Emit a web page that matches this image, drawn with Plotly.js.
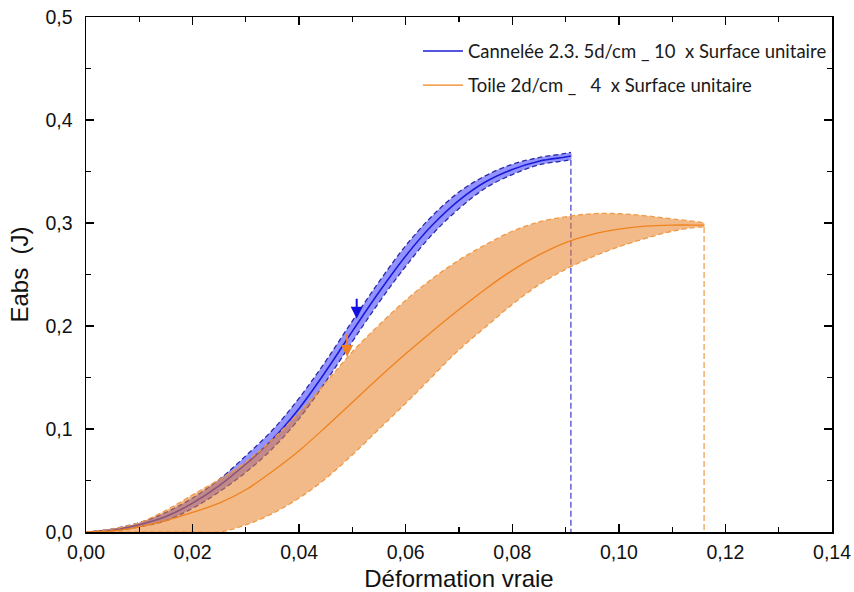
<!DOCTYPE html>
<html>
<head>
<meta charset="utf-8">
<script src="https://cdn.plot.ly/plotly-3.0.1.min.js"></script>
<style>html,body{margin:0;padding:0;background:#fff;}#chart{width:854px;height:592px;}</style>
</head>
<body>
<div id="chart"></div>
<script>
// ---- Data ----
const blueName = "Cannel\u00e9e 2.3. 5d/cm _ 10\u00a0 x Surface unitaire";
const orangeName = "Toile 2d/cm _\u00a0\u00a0 4\u00a0 x Surface unitaire";

const blueX     = [0, 0.005, 0.01, 0.015, 0.02, 0.025, 0.03, 0.035, 0.04, 0.045, 0.05, 0.055, 0.06, 0.065, 0.07, 0.075, 0.08, 0.085, 0.09, 0.091];
const blueMean  = [0, 0.002, 0.007, 0.015, 0.028, 0.045, 0.066, 0.090, 0.120, 0.156, 0.195, 0.233, 0.268, 0.298, 0.322, 0.340, 0.352, 0.360, 0.364, 0.365];
const blueUpper = [0, 0.003, 0.009, 0.019, 0.033, 0.051, 0.074, 0.099, 0.130, 0.166, 0.205, 0.243, 0.278, 0.307, 0.330, 0.346, 0.357, 0.3635, 0.3675, 0.3685];
const blueLower = [0, 0.001, 0.005, 0.011, 0.023, 0.039, 0.058, 0.081, 0.110, 0.146, 0.185, 0.223, 0.258, 0.289, 0.314, 0.334, 0.347, 0.3565, 0.3605, 0.3615];

const orangeX     = [0, 0.005, 0.01, 0.015, 0.02, 0.025, 0.03, 0.035, 0.04, 0.045, 0.05, 0.055, 0.06, 0.065, 0.07, 0.075, 0.08, 0.085, 0.09, 0.095, 0.1, 0.105, 0.11, 0.115, 0.116];
const orangeMean  = [0, 0.001, 0.005, 0.011, 0.019, 0.028, 0.041, 0.059, 0.079, 0.102, 0.126, 0.150, 0.173, 0.195, 0.216, 0.236, 0.254, 0.269, 0.281, 0.289, 0.294, 0.297, 0.298, 0.298, 0.298];
const orangeUpper = [0, 0.003, 0.009, 0.021, 0.036, 0.051, 0.068, 0.090, 0.116, 0.145, 0.175, 0.201, 0.225, 0.246, 0.264, 0.279, 0.292, 0.301, 0.306, 0.309, 0.309, 0.307, 0.304, 0.301, 0.300];
const orangeLower = [0, 0, 0, 0, 0, 0, 0.007, 0.018, 0.033, 0.052, 0.075, 0.100, 0.125, 0.151, 0.177, 0.199, 0.221, 0.240, 0.255, 0.267, 0.277, 0.285, 0.292, 0.296, 0.296];

// arrows: [x, tail y, head y]
const blueArrow   = [0.0508, 0.228, 0.207];
const orangeArrow = [0.049, 0.194, 0.170];

// ---- Styles ----
const BLUE_LINE = "#1c1cd8", BLUE_DASH = "#2a2aa8", BLUE_FILL = "rgba(40,40,255,0.5)";
const OR_LINE = "#f0821e", OR_DASH = "#ee9a48", OR_FILL = "rgba(232,130,40,0.55)";

function band(x, up, lo) {
  return { x: x.concat(x.slice().reverse()), y: up.concat(lo.slice().reverse()) };
}
const bB = band(blueX, blueUpper, blueLower);
const oB = band(orangeX, orangeUpper, orangeLower);
const lastB = blueX.length - 1, lastO = orangeX.length - 1;

const traces = [
  { x: bB.x, y: bB.y, type: "scatter", mode: "lines", fill: "toself", fillcolor: BLUE_FILL,
    line: { width: 0, shape: "spline" }, showlegend: false, hoverinfo: "skip" },
  { x: blueX, y: blueUpper, mode: "lines", line: { color: BLUE_DASH, width: 1.3, dash: "5px,3px", shape: "spline" }, showlegend: false },
  { x: blueX, y: blueLower, mode: "lines", line: { color: BLUE_DASH, width: 1.3, dash: "5px,3px", shape: "spline" }, showlegend: false },
  { x: [blueX[lastB], blueX[lastB]], y: [blueLower[lastB], 0], mode: "lines", line: { color: "#3a3acc", width: 1.2, dash: "6px,3px" }, showlegend: false },
  { x: blueX, y: blueMean, mode: "lines", name: blueName, legendgroup: "a", line: { color: BLUE_LINE, width: 1.6, shape: "spline" } },

  { x: oB.x, y: oB.y, type: "scatter", mode: "lines", fill: "toself", fillcolor: OR_FILL,
    line: { width: 0, shape: "spline" }, showlegend: false, hoverinfo: "skip" },
  { x: orangeX, y: orangeUpper, mode: "lines", line: { color: OR_DASH, width: 1.3, dash: "5px,3px", shape: "spline" }, showlegend: false },
  { x: orangeX, y: orangeLower, mode: "lines", line: { color: OR_DASH, width: 1.3, dash: "5px,3px", shape: "spline" }, showlegend: false },
  { x: [orangeX[lastO], orangeX[lastO]], y: [orangeLower[lastO], 0], mode: "lines", line: { color: "#f0a860", width: 1.4, dash: "6px,3px" }, showlegend: false },
  { x: orangeX, y: orangeMean, mode: "lines", name: orangeName, legendgroup: "b", line: { color: OR_LINE, width: 1.3, shape: "spline" } }
];

const TICKFONT = { family: "Liberation Sans, Arial, sans-serif", size: 19.5, color: "#111" };
const TITLEFONT = { family: "Liberation Sans, Arial, sans-serif", size: 24, color: "#111" };

const axisCommon = {
  showline: true, linecolor: "#000", linewidth: 1.5, mirror: "allticks",
  ticks: "inside", ticklen: 8, tickwidth: 1.3, tickcolor: "#000",
  showgrid: false, zeroline: false,
  tickfont: TICKFONT
};

const layout = {
  width: 854, height: 592,
  margin: { l: 86, r: 22, t: 17, b: 60 },
  paper_bgcolor: "#fff", plot_bgcolor: "#fff",
  separators: ", ",
  showlegend: true,
  legend: {
    x: 0.445, y: 0.97, xanchor: "left", yanchor: "top",
    bgcolor: "rgba(0,0,0,0)", borderwidth: 0,
    font: { family: "Lato, Open Sans, sans-serif", size: 18.5, color: "#1a1a1a" },
    traceorder: "grouped", tracegroupgap: 7, itemwidth: 40
  },
  xaxis: Object.assign({}, axisCommon, {
    range: [0, 0.14], dtick: 0.02, tick0: 0, tickformat: ".2f",
    ticklabelstandoff: 2,
    minor: { dtick: 0.01, ticks: "inside", ticklen: 5, tickwidth: 1.2, tickcolor: "#000" },
    title: { text: "D\u00e9formation vraie", font: TITLEFONT, standoff: 8 }
  }),
  yaxis: Object.assign({}, axisCommon, {
    range: [0, 0.5], dtick: 0.1, tick0: 0, tickformat: ".1f",
    ticklabelstandoff: 8,
    minor: { dtick: 0.05, ticks: "inside", ticklen: 5, tickwidth: 1.2, tickcolor: "#000" },
    title: { text: "Eabs\u00a0 (J)", font: TITLEFONT, standoff: 10 }
  }),
  annotations: [
    { x: blueArrow[0], y: blueArrow[2], ax: blueArrow[0], ay: blueArrow[1], xref: "x", yref: "y", axref: "x", ayref: "y",
      showarrow: true, arrowhead: 2, arrowsize: 1.2, arrowwidth: 2, arrowcolor: "#1010e0", text: "" },
    { x: orangeArrow[0], y: orangeArrow[2], ax: orangeArrow[0], ay: orangeArrow[1], xref: "x", yref: "y", axref: "x", ayref: "y",
      showarrow: true, arrowhead: 2, arrowsize: 1.2, arrowwidth: 2, arrowcolor: "#f08020", text: "" }
  ]
};

Plotly.newPlot("chart", traces, layout, { displayModeBar: false, staticPlot: true });
</script>
</body>
</html>
